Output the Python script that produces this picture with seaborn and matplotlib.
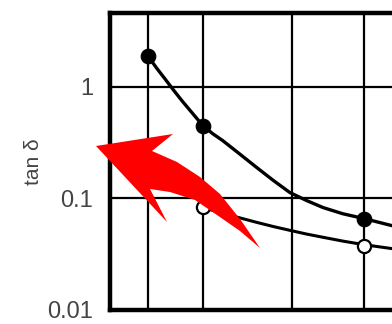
import numpy as np
import pandas as pd
import matplotlib
matplotlib.use("Agg")
import matplotlib.pyplot as plt
import seaborn as sns
from matplotlib.patches import Polygon

sns.set_style("white")
plt.rcParams['font.family'] = ['Liberation Sans', 'DejaVu Sans']

# x positions of the vertical grid lines (arbitrary units)
grid_x = [0.69, 1.69, 3.31, 4.62]
# y tick labels
y_ticks = [0.01, 0.1, 1]
y_labels = ["0.01", "0.1", "1"]

# measured points
filled_x = [0.69, 1.69, 4.62]
filled_y = [1.89, 0.449, 0.066]
open_x = [1.69, 4.62]
open_y = [0.083, 0.0373]

# curves through the points
curve_f_x = [0.69, 0.85, 1.0, 1.16, 1.31, 1.5, 1.69, 1.87, 2.05, 2.36, 2.67, 2.97, 3.27, 3.57, 3.87, 4.23, 4.62, 5.13]
curve_f_y = [1.89, 1.47, 1.18, 0.93, 0.75, 0.58, 0.449, 0.38, 0.33, 0.25, 0.189, 0.145, 0.113, 0.096, 0.083, 0.073, 0.066, 0.057]
curve_o_x = [1.69, 2.05, 2.36, 2.67, 2.97, 3.27, 3.57, 3.87, 4.23, 4.62, 5.13]
curve_o_y = [0.083, 0.0735, 0.067, 0.061, 0.056, 0.0518, 0.048, 0.0449, 0.0415, 0.0385, 0.0355]

W, H = 392, 324
fig = plt.figure(figsize=(W / 100, H / 100), dpi=100)
left, right, top, bottom = 110, 420, 13, 310
ax = fig.add_axes([left / W, 1 - bottom / H, (right - left) / W, (bottom - top) / H])

df_f = pd.DataFrame({"x": curve_f_x, "y": curve_f_y})
df_o = pd.DataFrame({"x": curve_o_x, "y": curve_o_y})
sns.lineplot(data=df_f, x="x", y="y", ax=ax, color="black", lw=2.4, sort=False, zorder=3)
sns.lineplot(data=df_o, x="x", y="y", ax=ax, color="black", lw=2.2, sort=False, zorder=3)
sns.scatterplot(x=filled_x, y=filled_y, ax=ax, color="black", s=110, edgecolor="black", zorder=4)
sns.scatterplot(x=open_x, y=open_y, ax=ax, color="white", s=90, edgecolor="black", linewidth=1.6, zorder=4)

ax.set_yscale("log")
ax.set_ylim(0.01, 4.6)
ax.set_xlim(0, (right - left) / 55)
ax.set_yticks(y_ticks)
ax.set_yticklabels(y_labels, fontsize=17, color="#444444")
ax.set_xticks([])
ax.tick_params(axis="y", which="major", length=0, pad=12)
ax.tick_params(axis="y", which="minor", length=3, direction="in", color="#555555")
ax.set_xlabel("")
ax.set_ylabel("tan δ", fontsize=15, color="#444444", labelpad=3)

for gx in grid_x:
    ax.axvline(gx, color="black", lw=1.6, zorder=1)
for gy in [0.1, 1]:
    ax.axhline(gy, color="black", lw=1.6, zorder=1)

for s in ["left", "top", "bottom"]:
    ax.spines[s].set_linewidth(3.2)
    ax.spines[s].set_color("black")
ax.spines["right"].set_visible(False)

# red arrow annotation (figure pixel coordinates)
pts = [(96, 146), (173, 134), (152, 151), (177, 162), (200, 177), (220, 194),
       (240, 219), (260, 248), (240, 231), (217, 215), (195, 200), (170, 192),
       (150, 189), (167, 222)]
pts = [(x / W, 1 - y / H) for x, y in pts]
fig.patches.append(Polygon(pts, closed=True, transform=fig.transFigure,
                           facecolor="#ff0000", edgecolor="none", zorder=10))

fig.savefig("out.png", dpi=100)
